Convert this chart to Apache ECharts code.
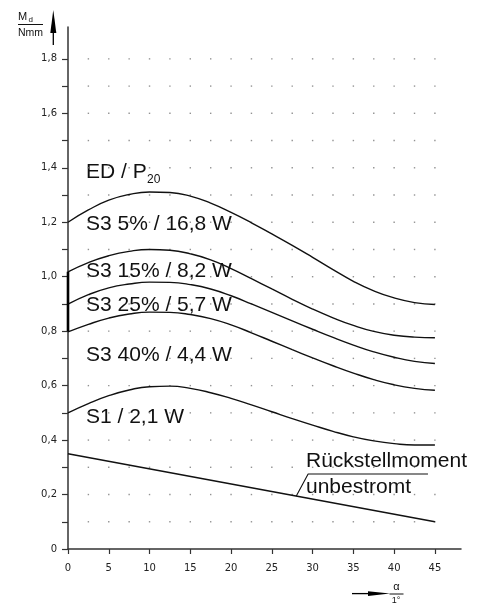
<!DOCTYPE html>
<html><head><meta charset="utf-8">
<script src="https://cdn.jsdelivr.net/npm/echarts@6/dist/echarts.min.js"></script>
<style>html,body{margin:0;padding:0;background:#fff}#c{width:487px;height:605px}</style>
</head><body><div id="c"></div>
<script>
// ---- data ----
const xValues = [0,2.5,5,7.5,10,12.5,15,17.5,20,22.5,25,27.5,30,32.5,35,37.5,40,42.5,45];
const s3_5  = [1.200,1.245,1.281,1.302,1.311,1.309,1.296,1.270,1.236,1.198,1.157,1.115,1.071,1.026,0.983,0.948,0.922,0.905,0.898];
const s3_15 = [1.018,1.052,1.077,1.093,1.100,1.097,1.084,1.062,1.030,0.993,0.955,0.917,0.881,0.849,0.821,0.799,0.785,0.778,0.776];
const s3_25 = [0.899,0.934,0.959,0.973,0.980,0.979,0.971,0.955,0.930,0.900,0.869,0.838,0.807,0.777,0.749,0.724,0.704,0.689,0.681];
const s3_40 = [0.797,0.825,0.848,0.863,0.870,0.869,0.861,0.846,0.823,0.794,0.763,0.732,0.702,0.673,0.646,0.622,0.603,0.590,0.583];
const s1    = [0.500,0.534,0.563,0.584,0.596,0.598,0.590,0.574,0.553,0.529,0.504,0.479,0.455,0.432,0.412,0.397,0.387,0.382,0.382];
const resetX = [0,45];
const resetY = [0.35,0.10];
const leaderX = [28,29.45,44.15];
const leaderY = [0.1944,0.2754,0.2754];
const axisMarkX = [0,0];
const axisMarkY = [0.8,1.018];
const xTickLabels = [0,5,10,15,20,25,30,35,40,45];
const yTickLabels = [0,0.2,0.4,0.6,0.8,1.0,1.2,1.4,1.6,1.8];
const yMinorTicks = [0,0.1,0.2,0.3,0.4,0.5,0.6,0.7,0.8,0.9,1.0,1.1,1.2,1.3,1.4,1.5,1.6,1.7,1.8];
const dotX = [2.5,5,7.5,10,12.5,15,17.5,20,22.5,25,27.5,30,32.5,35,37.5,40,42.5,45];
const dotY = [0.1,0.2,0.3,0.4,0.5,0.6,0.7,0.8,0.9,1.0,1.1,1.2,1.3,1.4,1.5,1.6,1.7,1.8];
const curveLabels = ['S3 5% / 16,8 W','S3 15% / 8,2 W','S3 25% / 5,7 W','S3 40% / 4,4 W','S1 / 2,1 W'];

// ---- build ----
const zip = (xs, ys) => xs.map((x,i)=>[x, ys[i]]);
const dots = [];
dotX.forEach(x => dotY.forEach(y => dots.push([x,y])));
const LINE = '#111';
const curve = (name, ys) => ({
  name, type:'line', data: zip(xValues, ys), smooth:0.5, symbol:'none', silent:true,
  lineStyle:{color:LINE, width:1.4}, z:3
});
const FONT = '"Liberation Sans", Arial, sans-serif';
const txt = (text, x, y, size) => ({type:'text', x, y, silent:true,
  style:{text, fontSize:size, fontFamily:FONT, fill:'#111', align:'left', verticalAlign:'middle'}});

const chart = echarts.init(document.getElementById('c'), null, {renderer:'canvas'});
chart.setOption({
  animation:false,
  backgroundColor:'#fff',
  grid:{left:68, right:26, top:27, bottom:56, containLabel:false},
  xAxis:{type:'value', min:0, max:48.2, interval:5,
    axisLine:{show:true, lineStyle:{color:'#333', width:1.5}},
    axisTick:{show:true, length:5, customValues:xTickLabels, lineStyle:{color:'#333', width:1.2}},
    axisLabel:{customValues:xTickLabels, margin:14, fontSize:10, fontFamily:'"DejaVu Sans", sans-serif', color:'#222'},
    splitLine:{show:false}},
  yAxis:{type:'value', min:0, max:1.917, interval:0.1,
    axisLine:{show:true, lineStyle:{color:'#333', width:1.5}},
    axisTick:{show:true, length:6, customValues:yMinorTicks, lineStyle:{color:'#333', width:1.2}},
    axisLabel:{customValues:yTickLabels, margin:11, fontSize:10, fontFamily:'"DejaVu Sans", sans-serif', color:'#222',
      formatter: v => v === 0 ? '0' : v.toFixed(1).replace('.', ',')},
    splitLine:{show:false}},
  series:[
    {name:'grid', type:'scatter', data:dots, symbol:'rect', symbolSize:1.4, silent:true,
      itemStyle:{color:'#777'}, z:1},
    curve(curveLabels[0], s3_5),
    curve(curveLabels[1], s3_15),
    curve(curveLabels[2], s3_25),
    curve(curveLabels[3], s3_40),
    curve(curveLabels[4], s1),
    {name:'Rückstellmoment', type:'line', data:zip(resetX, resetY), symbol:'none', silent:true,
      lineStyle:{color:LINE, width:1.4}, z:3},
    {name:'leader', type:'line', data:zip(leaderX, leaderY), symbol:'none', silent:true,
      lineStyle:{color:LINE, width:1.1}, z:3},
    {name:'axismark', type:'line', data:zip(axisMarkX, axisMarkY), symbol:'none', silent:true,
      lineStyle:{color:'#000', width:2.6}, z:4}
  ],
  graphic:[
    txt('ED / P', 86, 172.5, 21),
    txt('20', 147, 180, 12),
    txt(curveLabels[0], 86, 224.7, 21),
    txt(curveLabels[1], 86, 271.7, 21),
    txt(curveLabels[2], 86, 305.3, 21),
    txt(curveLabels[3], 86, 355.3, 21),
    txt(curveLabels[4], 86, 417.5, 21),
    txt('Rückstellmoment', 306, 460.8, 21),
    txt('unbestromt', 306, 487.5, 21),
    // y axis name
    txt('M', 18, 17, 11),
    txt('d', 28.5, 19.5, 8),
    {type:'line', silent:true, shape:{x1:18, y1:24.5, x2:43, y2:24.5}, style:{stroke:'#111', lineWidth:1}},
    txt('Nmm', 18, 33.5, 10.5),
    {type:'polygon', silent:true, shape:{points:[[53.3,10],[50.3,33],[56.3,33]]}, style:{fill:'#000'}},
    {type:'line', silent:true, shape:{x1:53.3, y1:30, x2:53.3, y2:45}, style:{stroke:'#000', lineWidth:1.3}},
    // x axis name
    {type:'line', silent:true, shape:{x1:352, y1:593.6, x2:370, y2:593.6}, style:{stroke:'#000', lineWidth:1.3}},
    {type:'polygon', silent:true, shape:{points:[[368,591.2],[390,593.6],[368,596]]}, style:{fill:'#000'}},
    {type:'text', x:396.5, y:587, silent:true, style:{text:'α', fontSize:11, fontFamily:FONT, fill:'#111', align:'center', verticalAlign:'middle'}},
    {type:'line', silent:true, shape:{x1:389.5, y1:594, x2:403.5, y2:594}, style:{stroke:'#111', lineWidth:1}},
    {type:'text', x:396, y:600.5, silent:true, style:{text:'1°', fontSize:9, fontFamily:FONT, fill:'#111', align:'center', verticalAlign:'middle'}}
  ]
});
</script></body></html>
